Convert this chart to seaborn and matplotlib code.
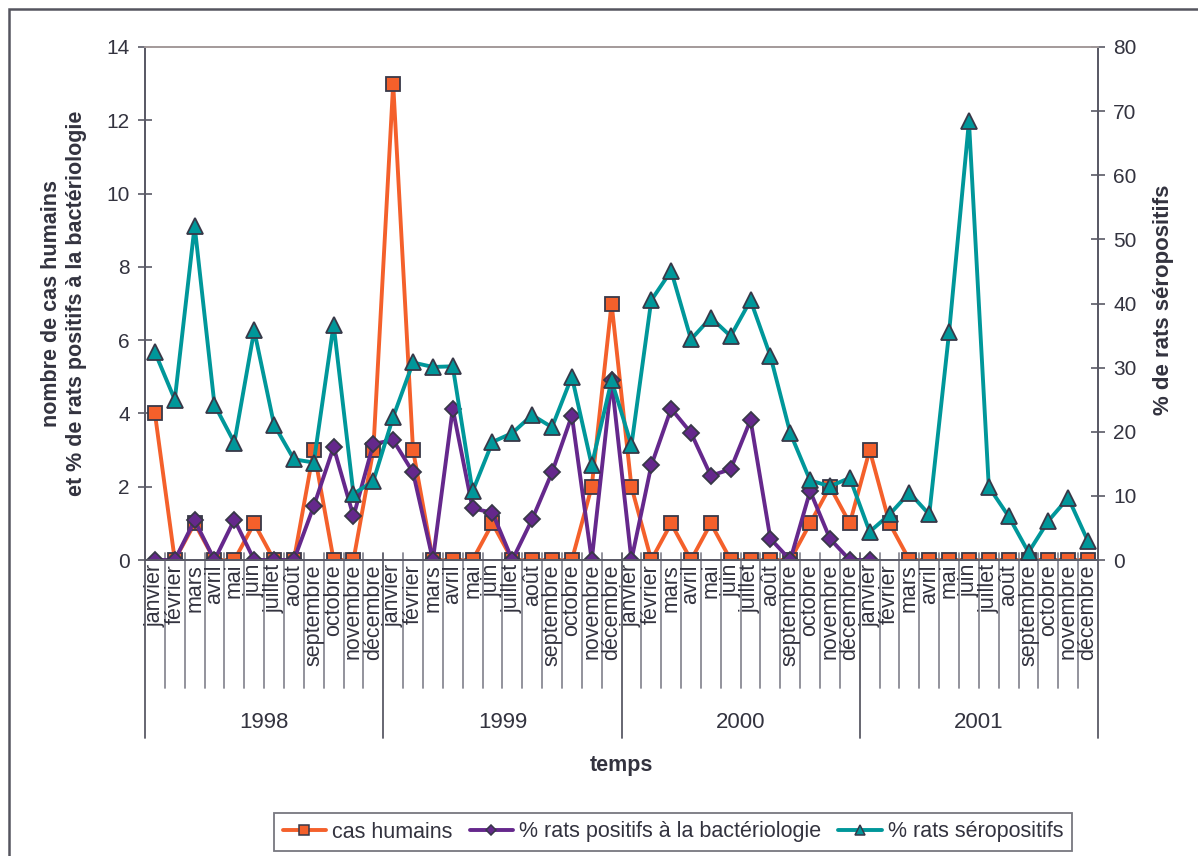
import numpy as np
import pandas as pd
import matplotlib
matplotlib.use('Agg')
import matplotlib.pyplot as plt
import matplotlib.transforms as mtransforms
from matplotlib.lines import Line2D
from matplotlib.patches import Rectangle
import seaborn as sns

# data, monthly 1998-2001
months = ['janvier', 'février', 'mars', 'avril', 'mai', 'juin', 'juillet', 'août',
          'septembre', 'octobre', 'novembre', 'décembre']
years = ['1998', '1999', '2000', '2001']

cas_humains = [4, 0, 1, 0, 0, 1, 0, 0, 3, 0, 0, 3,
               13, 3, 0, 0, 0, 1, 0, 0, 0, 0, 2, 7,
               2, 0, 1, 0, 1, 0, 0, 0, 0, 1, 2, 1,
               3, 1, 0, 0, 0, 0, 0, 0, 0, 0, 0, 0]

rats_bacterio = [0, 0, 1.08, 0, 1.1, 0, 0, 0, 1.47, 3.08, 1.19, 3.17,
                 3.27, 2.39, 0, 4.13, 1.41, 1.29, 0, 1.11, 2.39, 3.94, 0, 4.9,
                 0, 2.58, 4.13, 3.47, 2.3, 2.48, 3.82, 0.58, 0, 1.88, 0.58, 0,
                 0, np.nan, np.nan, np.nan, np.nan, np.nan, np.nan, np.nan,
                 np.nan, np.nan, np.nan, np.nan]

rats_sero = [32.4, 25.0, 52.1, 24.2, 18.3, 35.8, 21.1, 15.7, 15.2, 36.7, 10.3, 12.3,
             22.3, 30.8, 30.1, 30.2, 10.7, 18.4, 19.8, 22.6, 20.7, 28.6, 14.8, 28.0,
             17.9, 40.5, 45.1, 34.4, 37.8, 34.9, 40.5, 31.8, 19.8, 12.4, 11.5, 12.8,
             4.4, 7.1, 10.5, 7.1, 35.5, 68.4, 11.4, 6.8, 1.2, 6.1, 9.7, 2.9]

df = pd.DataFrame({
    'idx': np.arange(len(cas_humains)),
    'mois': months * len(years),
    'cas': cas_humains,
    'bacterio': rats_bacterio,
    'sero': rats_sero,
})

ORANGE = '#F4602B'
PURPLE = '#65288C'
TEAL = '#00979A'
EDGE = '#383848'
TXT = '#33333F'
AXC = '#5A5A66'

sns.set_style('white')
plt.rcParams['font.family'] = ['Liberation Sans', 'DejaVu Sans']
plt.rcParams['text.color'] = TXT
plt.rcParams['axes.labelcolor'] = TXT
plt.rcParams['xtick.color'] = AXC
plt.rcParams['ytick.color'] = AXC

W, H = 1198, 856
fig = plt.figure(figsize=(W / 100, H / 100), dpi=100)
ax = fig.add_axes([145 / W, 1 - 560 / H, (1098 - 145) / W, (560 - 47) / H])
ax2 = ax.twinx()

sns.lineplot(data=df, x='idx', y='cas', ax=ax, color=ORANGE, linewidth=2.8,
             marker='s', markersize=10, markeredgecolor=EDGE, markeredgewidth=1.3,
             zorder=2, legend=False)
sns.lineplot(data=df, x='idx', y='bacterio', ax=ax, color=PURPLE, linewidth=2.8,
             marker='D', markersize=8.5, markeredgecolor=EDGE, markeredgewidth=1.3,
             zorder=3, legend=False)
sns.lineplot(data=df, x='idx', y='sero', ax=ax2, color=TEAL, linewidth=2.8,
             marker='^', markersize=11, markeredgecolor=EDGE, markeredgewidth=1.3,
             zorder=3, legend=False)

n = len(df)
ax.set_xlim(-0.5, n - 0.5)
ax.set_ylim(0, 14)
ax2.set_ylim(0, 80)
ax.set_yticks(np.arange(0, 15, 2))
ax2.set_yticks(np.arange(0, 81, 10))
ax.set_xticks([])
ax.set_xlabel('')
ax.set_ylabel('')
ax2.set_ylabel('')

for a in (ax, ax2):
    a.tick_params(axis='y', direction='inout', length=10, width=1.2, labelsize=15,
                  labelcolor=TXT, pad=6)
    for side in ('left', 'right', 'bottom'):
        a.spines[side].set_color(AXC)
        a.spines[side].set_linewidth(1.3)
    a.spines['top'].set_color('#A59C9C')
    a.spines['top'].set_linewidth(1.3)
ax.tick_params(axis='y', left=True, right=False)
ax2.tick_params(axis='y', left=False, right=True)

# multi-level category axis (months / years)
trans = mtransforms.blended_transform_factory(ax.transData, ax.transAxes)
ph = 560 - 47
for i, m in enumerate(df['mois']):
    ax.text(i, -4 / ph, m, transform=trans, rotation=90, ha='center', va='top',
            fontsize=15.5, color=TXT, clip_on=False)
for k in range(n + 1):
    xb = k - 0.5
    if k % 12 == 0:
        y0, y1 = 7 / ph, -(738 - 560) / ph
        col = AXC
    else:
        y0, y1 = 7 / ph, -(688 - 560) / ph
        col = '#8A8A94'
    ax.plot([xb, xb], [y0, y1], transform=trans, color=col, lw=1.3, clip_on=False)
for j, yr in enumerate(years):
    ax.text(j * 12 + 5.5, -(722 - 560) / ph, yr, transform=trans, ha='center',
            va='center', fontsize=16, color=TXT, clip_on=False)
ax.text(0.5, -(765 - 560) / ph, 'temps', transform=ax.transAxes, ha='center',
        va='center', fontsize=15.5, fontweight='bold', color=TXT)

fig.text(64 / W, 1 - 303 / H, 'nombre de cas humains\net % de rats positifs à la bactériologie',
         rotation=90, ha='center', va='center', multialignment='center',
         fontsize=15.5, fontweight='bold', color=TXT, linespacing=1.25)
fig.text(1163 / W, 1 - 300 / H, '% de rats séropositifs', rotation=90,
         ha='center', va='center', fontsize=16, fontweight='bold', color=TXT)

# chart area frame
fig.patches.append(Rectangle((9 / W, -0.1), 1.2, 1 - 9 / H + 0.1, transform=fig.transFigure,
                             fill=False, edgecolor='#55555F', lw=1.8))

handles = [
    Line2D([0], [0], color=ORANGE, lw=2.8, marker='s', markersize=7.5,
           markeredgecolor=EDGE, markeredgewidth=1.1),
    Line2D([0], [0], color=PURPLE, lw=2.8, marker='D', markersize=5.5,
           markeredgecolor=EDGE, markeredgewidth=1.1),
    Line2D([0], [0], color=TEAL, lw=2.8, marker='^', markersize=7.5,
           markeredgecolor=EDGE, markeredgewidth=1.1),
]
labels = ['cas humains', '% rats positifs à la bactériologie', '% rats séropositifs']
leg = fig.legend(handles, labels, loc='center', bbox_to_anchor=(673 / W, 1 - 832 / H),
                 ncol=3, frameon=True, fancybox=False, edgecolor='#55555F',
                 fontsize=15.5, handlelength=2.0, handletextpad=0.3, columnspacing=0.8,
                 borderpad=0.4)
leg.get_frame().set_linewidth(1.3)

fig.savefig('out.png', dpi=100, facecolor='white')
